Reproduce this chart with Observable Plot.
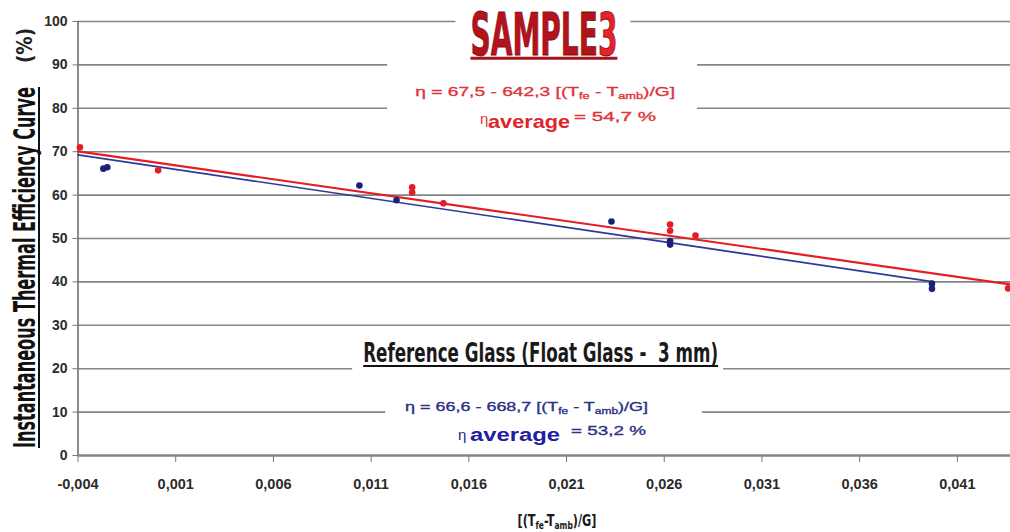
<!DOCTYPE html>
<html>
<head>
<meta charset="utf-8">
<script src="https://cdn.jsdelivr.net/npm/d3@7"></script>
<script src="https://cdn.jsdelivr.net/npm/@observablehq/plot@0.6"></script>
<style>
html, body { margin: 0; padding: 0; background: #fff; overflow: hidden; }
#chart { width: 1010px; height: 532px; }
</style>
</head>
<body>
<div id="chart"></div>
<script>
// ---------- data ----------
const xTicks = [-0.004, 0.001, 0.006, 0.011, 0.016, 0.021, 0.026, 0.031, 0.036, 0.041];
const yTicks = [0, 10, 20, 30, 40, 50, 60, 70, 80, 90, 100];

// Reference glass (float glass 3 mm) – blue points
const refX = [-0.0027, -0.0025, 0.0104, 0.0123, 0.0233, 0.0263, 0.0263, 0.0397, 0.0397];
const refY = [66.1, 66.4, 62.2, 58.8, 53.9, 48.6, 49.4, 38.4, 39.6];

// Sample 3 – red points
const sampleX = [-0.0039, 0.0001, 0.0131, 0.0131, 0.0147, 0.0263, 0.0263, 0.0276, 0.0436];
const sampleY = [71.0, 65.7, 61.8, 60.6, 58.1, 53.2, 51.8, 50.7, 38.5];

// Trend lines as printed on the chart: eta = a + b * x
const fitNames = ["Reference Glass", "Sample 3"];
const fitIntercepts = [66.6, 67.5];
const fitSlopes = [-668.7, -642.3];
const fitFrom = [-0.004, -0.004];
const fitTo = [0.0397, 0.0437];

const xDomain = [-0.004, 0.04372];
const yDomain = [0, 100];

// ---------- build ----------
const refPts = refX.map((x, i) => ({x, y: refY[i]}));
const samplePts = sampleX.map((x, i) => ({x, y: sampleY[i]}));
const fitLine = i => [fitFrom[i], fitTo[i]].map(x => ({x, y: fitIntercepts[i] + fitSlopes[i] * x}));

const fmt = d => d3.format(".3f")(d).replace(".", ",").replace("\u2212", "-");

const SANS = "'Liberation Sans', Arial, 'DejaVu Sans', sans-serif";
const NARROW = "'DejaVu Sans Condensed', 'Liberation Sans Narrow', 'DejaVu Sans', sans-serif";

const BLUE = "#1c2078";
const BLUE_LINE = "#2d3b98";
const RED = "#e31d24";

const plot = Plot.plot({
  width: 1010,
  height: 532,
  marginLeft: 77.5,
  marginRight: 0,
  marginTop: 21,
  marginBottom: 77,
  style: {fontFamily: SANS, background: "white", overflow: "hidden"},
  x: {domain: xDomain},
  y: {domain: yDomain},
  marks: [
    Plot.ruleY(yTicks.filter(d => d > 0), {stroke: "#858585", strokeWidth: 1.6}),
    Plot.ruleY([0], {stroke: "#858585", strokeWidth: 2.4}),
    Plot.ruleX([xDomain[0]], {stroke: "#6e6e6e", strokeWidth: 1.6}),
    Plot.axisY({ticks: yTicks, tickSize: 5, tickPadding: 5.5, label: null,
      stroke: "#777", fill: "#2b2b2b", fontSize: 14, fontWeight: "bold"}),
    Plot.axisX({ticks: xTicks, tickFormat: fmt, tickSize: 7, tickPadding: 16, label: null,
      stroke: "#777", fill: "#2b2b2b", fontSize: 14.5, fontWeight: "bold"}),
    Plot.line(fitLine(0), {x: "x", y: "y", stroke: BLUE_LINE, strokeWidth: 1.7}),
    Plot.line(fitLine(1), {x: "x", y: "y", stroke: RED, strokeWidth: 2.2}),
    Plot.dot(refPts, {x: "x", y: "y", r: 3.3, fill: BLUE}),
    Plot.dot(samplePts, {x: "x", y: "y", r: 3.3, fill: RED})
  ]
});
document.getElementById("chart").append(plot);

// ---------- annotations ----------
const sx = plot.scale("x"), sy = plot.scale("y");
const X = v => sx.apply(v), Y = v => sy.apply(v);
const svg = d3.select(plot);
const boxes = svg.append("g");
const texts = svg.append("g");
const svgRect = plot.getBoundingClientRect();

function addText(cfg) {
  const t = texts.append("text")
    .attr("text-anchor", cfg.anchor || "start")
    .attr("font-family", cfg.family || SANS)
    .attr("font-size", cfg.size)
    .attr("font-weight", cfg.weight || "normal")
    .attr("fill", cfg.fill || "#000");
  if (cfg.stroke) t.attr("stroke", cfg.stroke).attr("stroke-width", cfg.strokeWidth || 0.5);
  let shift = 0;
  for (const p of cfg.parts) {
    const s = typeof p === "string" ? {t: p} : p;
    const target = s.sub || 0;
    const ts = t.append("tspan").text(s.t).attr("dy", target - shift);
    shift = target;
    if (s.size) ts.attr("font-size", s.size);
    if (s.fill) ts.attr("fill", s.fill);
    if (s.weight) ts.attr("font-weight", s.weight);
  }
  const natural = t.node().getComputedTextLength();
  const k = cfg.width ? cfg.width / natural : 1;
  t.attr("transform", `translate(${cfg.px},${cfg.py})${cfg.rotate ? ` rotate(${cfg.rotate})` : ""} scale(${k},1)`);
  return t;
}
function extent(t) {
  const r = t.node().getBoundingClientRect();
  return {left: r.left - svgRect.left, right: r.right - svgRect.left, top: r.top - svgRect.top, bottom: r.bottom - svgRect.top};
}
function whiteBox(x1, x2, y1, y2) {
  boxes.append("rect").attr("x", x1).attr("y", y1).attr("width", x2 - x1).attr("height", y2 - y1).attr("fill", "white");
}
function eqParts(a, b) {
  return [`\u03B7 = ${a} - ${b} [(T`, {t: "fe", sub: 3, size: 9}, " - T", {t: "amb", sub: 3, size: 9}, {t: ")/G]", sub: 0}];
}

// SAMPLE 3 title
const title = addText({px: X(0.01987), py: Y(92.2), anchor: "middle", family: NARROW, size: 58, weight: "bold",
  fill: "#b3141b", stroke: "#7a0c10", strokeWidth: 0.8, width: 147,
  parts: [{t: "SAMPLE"}, {t: "3", fill: "#e4232b"}]});
let e = extent(title);
whiteBox(e.left - 15, e.right + 13, Y(100) - 8, Y(100) + 8);
texts.append("line").attr("x1", e.left).attr("x2", e.right).attr("y1", Y(92.2) + 3.5).attr("y2", Y(92.2) + 3.5)
  .attr("stroke", "#a3141b").attr("stroke-width", 3);

// Sample equation
const redEq = addText({px: X(0.01993), py: Y(82.72), anchor: "middle", size: 13.5, fill: "#e0343a",
  stroke: "#e0343a", strokeWidth: 0.35, width: 260, parts: eqParts("67,5", "642,3")});
e = extent(redEq);
whiteBox(e.left - 28, e.right + 22, Y(90) - 6, Y(80) + 5);
addText({px: X(0.0166), py: Y(76.3), size: 15, fill: "#e0343a", parts: ["\u03B7"]});
addText({px: X(0.01701), py: Y(75.35), size: 18, weight: "bold", fill: "#e0262c", width: 82, parts: ["average"]});
addText({px: X(0.02141), py: Y(76.96), size: 13.5, fill: "#e0343a", stroke: "#e0343a", strokeWidth: 0.35,
  width: 82, parts: ["= 54,7 %"]});

// Reference glass title
const refTitle = addText({px: X(0.0197), py: Y(21.43), anchor: "middle", family: NARROW, size: 27, weight: "bold",
  fill: "#1a1a1a", width: 355, parts: ["Reference Glass (Float Glass -  3 mm)"]});
e = extent(refTitle);
whiteBox(e.left - 11, e.right + 5, Y(20) - 8, Y(20) + 5);
texts.append("line").attr("x1", e.left).attr("x2", e.right).attr("y1", Y(21.43) + 4).attr("y2", Y(21.43) + 4)
  .attr("stroke", "#111").attr("stroke-width", 2);

// Reference equation
const blueEq = addText({px: X(0.01898), py: Y(10.14), anchor: "middle", size: 13.5, fill: "#2b2f86",
  stroke: "#2b2f86", strokeWidth: 0.35, width: 243, parts: eqParts("66,6", "668,7")});
e = extent(blueEq);
whiteBox(e.left - 20, e.right + 54, Y(10) - 7, Y(10) + 7);
addText({px: X(0.01547), py: Y(3.46), size: 15, fill: "#1c1f86", parts: ["\u03B7"]});
addText({px: X(0.01609), py: Y(3.23), size: 19, weight: "bold", fill: "#1f20a0", width: 90, parts: ["average"]});
addText({px: X(0.02126), py: Y(4.61), size: 13.5, fill: "#2b2f86", stroke: "#2b2f86", strokeWidth: 0.35,
  width: 75, parts: ["= 53,2 %"]});

// Axis titles
addText({px: 35, py: 448, rotate: -90, family: NARROW, size: 30, weight: "bold", fill: "#111", width: 361,
  parts: ["Instantaneous Thermal Efficiency Curve"]});
texts.append("line").attr("x1", 39).attr("x2", 39).attr("y1", 87).attr("y2", 448).attr("stroke", "#111").attr("stroke-width", 2);
addText({px: 32, py: 63, rotate: -90, family: NARROW, size: 21, weight: "bold", fill: "#222", width: 35, parts: ["(%)"]});
addText({px: 557, py: 526, anchor: "middle", family: NARROW, size: 15, weight: "bold", fill: "#1a1a1a", width: 79,
  parts: ["[(T", {t: "fe", sub: 3, size: 10}, "-T", {t: "amb", sub: 3, size: 10}, {t: ")/G]", sub: 0}]});
</script>
</body>
</html>
